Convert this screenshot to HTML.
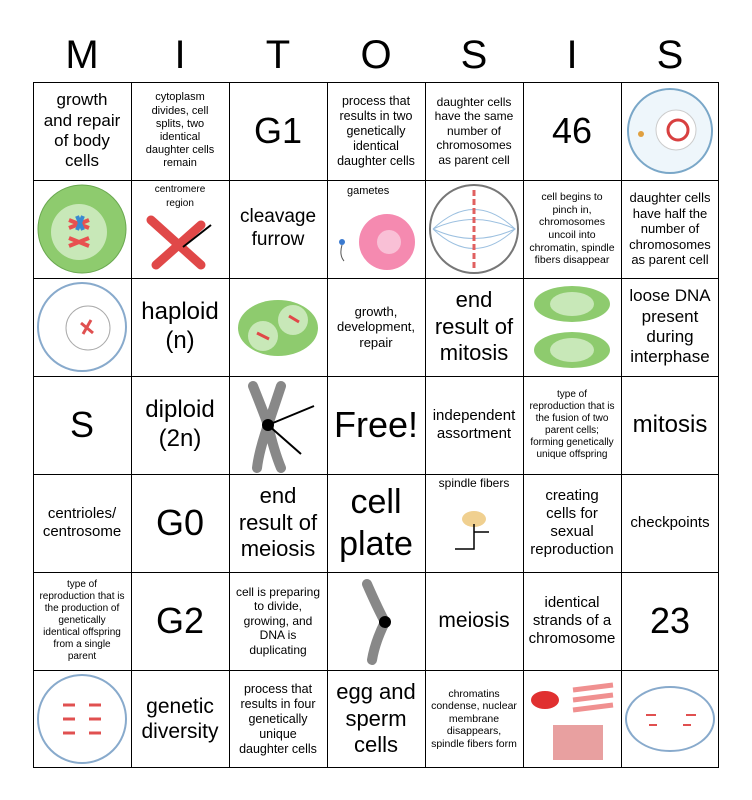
<!DOCTYPE html>
<html><head><meta charset="utf-8"><style>
html,body{margin:0;padding:0;background:#fff;}
body{width:752px;height:800px;position:relative;overflow:hidden;font-family:"Liberation Sans",sans-serif;color:#000;}
.h{position:absolute;top:30px;width:98px;text-align:center;font-size:40px;line-height:50px;}
.c{position:absolute;width:98px;height:98px;display:flex;align-items:center;justify-content:center;text-align:center;box-sizing:border-box;padding:2px 6px;line-height:1.2;}
.g{position:absolute;left:33px;top:82px;width:686px;height:686px;}
svg.cell{position:absolute;width:98px;height:98px;}
</style></head><body>
<div class="h" style="left:33px">M</div><div class="h" style="left:131px">I</div><div class="h" style="left:229px">T</div><div class="h" style="left:327px">O</div><div class="h" style="left:425px">S</div><div class="h" style="left:523px">I</div><div class="h" style="left:621px">S</div>

<div class="c" style="left:33px;top:82px;font-size:17px;padding:2px 10px">growth and repair of body cells</div>
<div class="c" style="left:131px;top:82px;font-size:11px;padding:2px 12px">cytoplasm divides, cell splits, two identical daughter cells remain</div>
<div class="c" style="left:229px;top:82px;font-size:36px">G1</div>
<div class="c" style="left:327px;top:82px;font-size:12.5px">process that results in two genetically identical daughter cells</div>
<div class="c" style="left:425px;top:82px;font-size:12px">daughter cells have the same number of chromosomes as parent cell</div>
<div class="c" style="left:523px;top:82px;font-size:36px">46</div>
<svg class="cell" style="left:621px;top:82px"><circle cx="49" cy="49" r="42" fill="#eef6fb" stroke="#7aa7c8" stroke-width="2"/><circle cx="55" cy="48" r="20" fill="#fff" stroke="#ccc"/><circle cx="57" cy="48" r="10" fill="none" stroke="#d84040" stroke-width="3"/><circle cx="20" cy="52" r="3" fill="#e0a040"/></svg>

<svg class="cell" style="left:33px;top:180px"><circle cx="49" cy="49" r="44" fill="#8ecb6e" stroke="#6aa850"/><circle cx="46" cy="52" r="28" fill="#c8e8b8"/><path d="M36 40l20 8M56 40l-20 8M36 58l20 8M56 58l-20 8" stroke="#e85050" stroke-width="4"/><path d="M44 36l6 14M50 36l-6 14" stroke="#3a8ad0" stroke-width="4"/></svg>
<svg class="cell" style="left:131px;top:180px"><text x="49" y="12" font-size="10" text-anchor="middle" font-family="Liberation Sans">centromere</text><text x="49" y="26" font-size="10" text-anchor="middle" font-family="Liberation Sans">region</text><path d="M20 40l50 45M25 85l45-40" stroke="#e04848" stroke-width="9" stroke-linecap="round"/><path d="M80 45l-28 22" stroke="#000" stroke-width="2"/></svg>
<div class="c" style="left:229px;top:180px;font-size:19px">cleavage furrow</div>
<svg class="cell" style="left:327px;top:180px"><text x="20" y="14" font-size="11" font-family="Liberation Sans">gametes</text><circle cx="60" cy="62" r="28" fill="#f58ab0"/><circle cx="62" cy="62" r="12" fill="#f9c0d6"/><circle cx="15" cy="62" r="3" fill="#3a7ad0"/><path d="M15 65q-3 10 2 16" stroke="#555" fill="none"/></svg>
<svg class="cell" style="left:425px;top:180px"><circle cx="49" cy="49" r="44" fill="#fff" stroke="#777" stroke-width="2"/><path d="M8 49Q49 10 90 49Q49 88 8 49M8 49Q49 30 90 49Q49 68 8 49" fill="none" stroke="#9cc0e0"/><path d="M49 10V88" stroke="#e06060" stroke-width="3" stroke-dasharray="6 3"/></svg>
<div class="c" style="left:523px;top:180px;font-size:10.5px">cell begins to pinch in, chromosomes uncoil into chromatin, spindle fibers disappear</div>
<div class="c" style="left:621px;top:180px;font-size:13px;padding:2px 3px">daughter cells have half the number of chromosomes as parent cell</div>

<svg class="cell" style="left:33px;top:278px"><circle cx="49" cy="49" r="44" fill="#fff" stroke="#88aacc" stroke-width="2"/><circle cx="55" cy="50" r="22" fill="#fff" stroke="#aaa"/><path d="M48 45l12 10M58 42l-8 14" stroke="#e05050" stroke-width="3"/></svg>
<div class="c" style="left:131px;top:278px;font-size:24px">haploid (n)</div>
<svg class="cell" style="left:229px;top:278px"><ellipse cx="49" cy="50" rx="40" ry="28" fill="#8ecb6e"/><circle cx="34" cy="58" r="15" fill="#c8e8b8"/><circle cx="64" cy="42" r="15" fill="#c8e8b8"/><path d="M28 55l12 6M60 38l10 6" stroke="#e04848" stroke-width="3"/></svg>
<div class="c" style="left:327px;top:278px;font-size:13px">growth, development, repair</div>
<div class="c" style="left:425px;top:278px;font-size:22px">end result of mitosis</div>
<svg class="cell" style="left:523px;top:278px"><ellipse cx="49" cy="26" rx="38" ry="18" fill="#8ecb6e"/><ellipse cx="49" cy="72" rx="38" ry="18" fill="#8ecb6e"/><ellipse cx="49" cy="26" rx="22" ry="12" fill="#c8e8b8"/><ellipse cx="49" cy="72" rx="22" ry="12" fill="#c8e8b8"/></svg>
<div class="c" style="left:621px;top:278px;font-size:17px">loose DNA present during interphase</div>

<div class="c" style="left:33px;top:376px;font-size:36px">S</div>
<div class="c" style="left:131px;top:376px;font-size:24px">diploid (2n)</div>
<svg class="cell" style="left:229px;top:376px"><path d="M24 10Q36 40 39 49Q30 75 28 92M52 10Q42 40 39 49Q45 75 52 92" stroke="#888" stroke-width="10" fill="none" stroke-linecap="round"/><circle cx="39" cy="49" r="6" fill="#000"/><path d="M39 49L85 30M39 49L72 78" stroke="#000" stroke-width="2"/></svg>
<div class="c" style="left:327px;top:376px;font-size:36px;padding:0">Free!</div>
<div class="c" style="left:425px;top:376px;font-size:15px">independent assortment</div>
<div class="c" style="left:523px;top:376px;font-size:10px">type of reproduction that is the fusion of two parent cells; forming genetically unique offspring</div>
<div class="c" style="left:621px;top:376px;font-size:24px;padding:0">mitosis</div>

<div class="c" style="left:33px;top:474px;font-size:15px">centrioles/ centrosome</div>
<div class="c" style="left:131px;top:474px;font-size:36px">G0</div>
<div class="c" style="left:229px;top:474px;font-size:22px">end result of meiosis</div>
<div class="c" style="left:327px;top:474px;font-size:34px;line-height:1.25">cell plate</div>
<svg class="cell" style="left:425px;top:474px"><text x="49" y="13" font-size="12" text-anchor="middle" font-family="Liberation Sans">spindle fibers</text><ellipse cx="49" cy="45" rx="12" ry="8" fill="#f0d090"/><path d="M49 50v25H30M49 58h15" stroke="#000" fill="none" stroke-width="1.5"/></svg>
<div class="c" style="left:523px;top:474px;font-size:15px">creating cells for sexual reproduction</div>
<div class="c" style="left:621px;top:474px;font-size:15px;padding:0">checkpoints</div>

<div class="c" style="left:33px;top:572px;font-size:10px">type of reproduction that is the production of genetically identical offspring from a single parent</div>
<div class="c" style="left:131px;top:572px;font-size:36px">G2</div>
<div class="c" style="left:229px;top:572px;font-size:12px">cell is preparing to divide, growing, and DNA is duplicating</div>
<svg class="cell" style="left:327px;top:572px"><path d="M40 12Q50 35 58 50Q48 70 45 88" stroke="#888" stroke-width="10" fill="none" stroke-linecap="round"/><circle cx="58" cy="50" r="6" fill="#000"/></svg>
<div class="c" style="left:425px;top:572px;font-size:21px;padding:0">meiosis</div>
<div class="c" style="left:523px;top:572px;font-size:15px">identical strands of a chromosome</div>
<div class="c" style="left:621px;top:572px;font-size:36px">23</div>

<svg class="cell" style="left:33px;top:670px"><circle cx="49" cy="49" r="44" fill="#fff" stroke="#88aacc" stroke-width="2"/><path d="M30 35h12M56 35h12M30 49h12M56 49h12M30 63h12M56 63h12" stroke="#e05050" stroke-width="3"/></svg>
<div class="c" style="left:131px;top:670px;font-size:21px">genetic diversity</div>
<div class="c" style="left:229px;top:670px;font-size:12.5px">process that results in four genetically unique daughter cells</div>
<div class="c" style="left:327px;top:670px;font-size:22px">egg and sperm cells</div>
<div class="c" style="left:425px;top:670px;font-size:10.5px">chromatins condense, nuclear membrane disappears, spindle fibers form</div>
<svg class="cell" style="left:523px;top:670px"><ellipse cx="22" cy="30" rx="14" ry="9" fill="#e03030"/><path d="M50 20l40-5M50 30l40-5M50 40l40-5" stroke="#f09090" stroke-width="5"/><rect x="30" y="55" width="50" height="35" fill="#e8a0a0"/></svg>
<svg class="cell" style="left:621px;top:670px"><ellipse cx="49" cy="49" rx="44" ry="32" fill="#fff" stroke="#88aacc" stroke-width="2"/><path d="M25 45h10M65 45h10M28 55h8M62 55h8" stroke="#e05050" stroke-width="2"/></svg>

<svg class="g" viewBox="0 0 686 686" style="overflow:visible">
<g stroke="#000" stroke-width="1" fill="none" shape-rendering="crispEdges">
<rect x="0.5" y="0.5" width="685" height="685"/>
<path d="M98.5 0V686M196.5 0V686M294.5 0V686M392.5 0V686M490.5 0V686M588.5 0V686M0 98.5H686M0 196.5H686M0 294.5H686M0 392.5H686M0 490.5H686M0 588.5H686"/>
</g></svg>
</body></html>
